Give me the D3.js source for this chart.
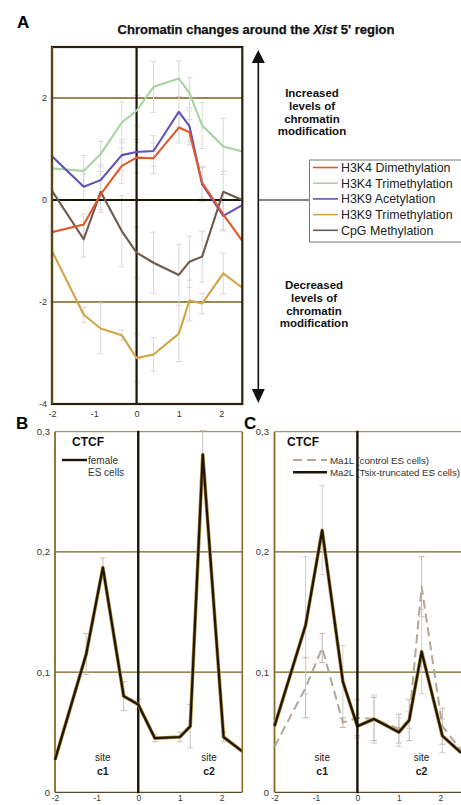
<!DOCTYPE html>
<html><head><meta charset="utf-8">
<script src="https://cdn.jsdelivr.net/npm/d3@7"></script>
<style>
html,body{margin:0;padding:0;background:#fff;}
svg{display:block;font-family:"Liberation Sans",Arial,sans-serif;}
</style></head>
<body>
<script>
// ---------- Data ----------
const positions = [-2, -1.25, -0.85, -0.35, 0, 0.4, 1, 1.25, 1.55, 2.05, 2.5];
const seriesNames = ["H3K4 Dimethylation","H3K4 Trimethylation","H3K9 Acetylation","H3K9 Trimethylation","CpG Methylation"];
const h3k4Dimethyl = [-0.63,-0.48,0.11,0.67,0.83,0.82,1.42,1.33,0.34,-0.28,-0.8];
const h3k4DimethylErr = [0,0.2,0.3,0.35,0.3,0.3,0.3,0.25,0.3,0.3,0];
const h3k4Trimethyl = [0.62,0.57,0.9,1.52,1.75,2.22,2.38,2.1,1.46,1.05,0.95];
const h3k4TrimethylErr = [0,0.3,0.25,0.4,0.3,0.5,0.35,0.3,0.45,0.55,0];
const h3k9Acetyl = [0.86,0.26,0.39,0.88,0.94,0.96,1.73,1.45,0.31,-0.31,-0.1];
const h3k9AcetylErr = [0,0.25,0.3,0.3,0.25,0.3,0.3,0.3,0.35,0.3,0];
const h3k9Trimethyl = [-1.0,-2.25,-2.52,-2.65,-3.1,-3.03,-2.62,-1.97,-2.03,-1.44,-1.72];
const h3k9TrimethylErr = [0,0.15,0.5,0.1,0.47,0.33,0.55,0.4,0.2,0.4,0];
const cpgMethyl = [0.18,-0.77,0.16,-0.61,-1.03,-1.23,-1.47,-1.21,-1.11,0.16,0.0];
const cpgMethylErr = [0,0.35,0.4,0.7,0.5,0.6,0.6,0.5,0.5,0.4,0];
const seriesColors = ["#e4572a","#a6d49e","#6450b4","#d2a445","#6d5a4b"];

const femaleES = [0.027,0.115,0.187,0.08,0.073,0.045,0.046,0.055,0.281,0.046,0.034];
const femaleESErr = [0,0.017,0.008,0.012,0.004,0.003,0.004,0.018,0.02,0.004,0];
const ma2L = [0.055,0.139,0.218,0.092,0.055,0.061,0.05,0.06,0.117,0.047,0.033];
const ma2LErr = [0,0.057,0.037,0.03,0.01,0.02,0.012,0.007,0.035,0.014,0];
const ma1L = [0.038,0.087,0.12,0.058,0.062,0.061,0.053,0.06,0.171,0.055,0.035];
const ma1LErr = [0,0.025,0.012,0.004,0.015,0.018,0.012,0.017,0.025,0.015,0];

const xTicks = [-2,-1,0,1,2];
const yTicksA = [2,0,-2,-4];
const yTicksB = [0.3,0.2,0.1,0];

// ---------- Setup ----------
const W = 461, H = 805;
const svg = d3.select("body").append("svg").attr("width", W).attr("height", H);
const gridCol = "#7a5f1c", frameCol = "#2b2110";
const errCol = "#d9d9d9";

function errorBars(g, x, y, vals, errs, col, capW) {
  const d = positions.map((p,i)=>({p, v: vals[i], e: errs[i]})).filter(o=>o.e>0);
  const eg = g.append("g").attr("stroke", col).attr("stroke-width", 1).attr("fill","none");
  d.forEach(o=>{
    eg.append("line").attr("x1",x(o.p)).attr("x2",x(o.p)).attr("y1",y(o.v-o.e)).attr("y2",y(o.v+o.e));
    eg.append("line").attr("x1",x(o.p)-capW).attr("x2",x(o.p)+capW).attr("y1",y(o.v-o.e)).attr("y2",y(o.v-o.e));
    eg.append("line").attr("x1",x(o.p)-capW).attr("x2",x(o.p)+capW).attr("y1",y(o.v+o.e)).attr("y2",y(o.v+o.e));
  });
}

// ---------- Panel A ----------
const xA = d3.scaleLinear().domain([-2,2.5]).range([52,242.3]);
const yA = d3.scaleLinear().domain([-4,3]).range([404,47]);
const gA = svg.append("g");

svg.append("text").attr("x",17).attr("y",28).attr("font-size",17).attr("font-weight","bold").text("A");
const title = svg.append("text").attr("x",256).attr("y",34).attr("text-anchor","middle")
  .attr("font-size",13).attr("font-weight","bold").attr("fill","#111").attr("stroke","#111").attr("stroke-width",0.25);
title.append("tspan").text("Chromatin changes around the ");
title.append("tspan").attr("font-style","italic").text("Xist");
title.append("tspan").text("  5' region");

// grid
[2,-2].forEach(v=>gA.append("line").attr("x1",xA(-2)).attr("x2",xA(2.5)).attr("y1",yA(v)).attr("y2",yA(v))
  .attr("stroke",gridCol).attr("stroke-width",1.5));

// error bars
const aSeries = [
  [h3k4Dimethyl,h3k4DimethylErr],[h3k4Trimethyl,h3k4TrimethylErr],[h3k9Acetyl,h3k9AcetylErr],
  [h3k9Trimethyl,h3k9TrimethylErr],[cpgMethyl,cpgMethylErr]];
aSeries.forEach(s=>errorBars(gA,xA,yA,s[0],s[1],errCol,3));

gA.append("line").attr("x1",xA(-2)).attr("x2",xA(2.5)).attr("y1",yA(0)).attr("y2",yA(0))
  .attr("stroke","#1a1408").attr("stroke-width",2.2);
gA.append("line").attr("x1",xA(0)).attr("x2",xA(0)).attr("y1",yA(3)).attr("y2",yA(-4))
  .attr("stroke","#1a1408").attr("stroke-width",2.2);

const lineA = d3.line().x((d,i)=>xA(positions[i])).y(d=>yA(d));
// draw order: green, gold, brown, purple, orange
[1,3,4,2,0].forEach(k=>{
  gA.append("path").datum(aSeries[k][0]).attr("d",lineA).attr("fill","none")
    .attr("stroke",seriesColors[k]).attr("stroke-width",2.1).attr("stroke-linejoin","round");
});

// frame
gA.append("rect").attr("x",xA(-2)).attr("y",yA(3)).attr("width",xA(2.5)-xA(-2)).attr("height",yA(-4)-yA(3))
  .attr("fill","none").attr("stroke",frameCol).attr("stroke-width",2.2);
gA.append("line").attr("x1",xA(-2)).attr("x2",xA(-2)).attr("y1",yA(3)).attr("y2",yA(-4))
  .attr("stroke","#5a4612").attr("stroke-width",2.2);

// ticks labels
gA.append("g").attr("transform",`translate(0,${yA(-4)})`)
  .call(d3.axisBottom(xA).tickValues(xTicks).tickSize(0).tickPadding(7).tickFormat(d=>d))
  .call(g=>g.select(".domain").remove())
  .call(g=>g.selectAll("text").attr("font-size",9).attr("fill","#333").attr("font-family","Liberation Sans, Arial"));
gA.append("g").attr("transform",`translate(${xA(-2)},0)`)
  .call(d3.axisLeft(yA).tickValues(yTicksA).tickSize(0).tickPadding(5).tickFormat(d=>d))
  .call(g=>g.select(".domain").remove())
  .call(g=>g.selectAll("text").attr("font-size",9).attr("fill","#333").attr("font-family","Liberation Sans, Arial"));

// arrow
const ax = 258.3;
svg.append("line").attr("x1",ax).attr("x2",ax).attr("y1",60).attr("y2",392).attr("stroke","#111").attr("stroke-width",1.6);
svg.append("path").attr("d",`M${ax-6.5},63 L${ax},50 L${ax+6.5},63 Z`).attr("fill","#111");
svg.append("path").attr("d",`M${ax-6.5},389 L${ax},403 L${ax+6.5},389 Z`).attr("fill","#111");
svg.append("line").attr("x1",ax).attr("x2",309).attr("y1",yA(0)).attr("y2",yA(0)).attr("stroke","#111").attr("stroke-width",1.2);

function multiline(lines, cx, y0, lh) {
  const t = svg.append("text").attr("text-anchor","middle").attr("font-size",11.5).attr("font-weight","bold").attr("fill","#111");
  lines.forEach((l,i)=>t.append("tspan").attr("x",cx).attr("y",y0+i*lh).text(l));
}
multiline(["Increased","levels of","chromatin","modification"], 312, 97, 12.8);
multiline(["Decreased","levels of","chromatin","modification"], 314, 289, 12.8);

// legend A
const lg = svg.append("g");
lg.append("rect").attr("x",309.5).attr("y",160).attr("width",155).attr("height",82)
  .attr("fill","#fff").attr("stroke","#777").attr("stroke-width",1);
seriesNames.forEach((n,i)=>{
  const yy = 167.5 + i*15.7;
  lg.append("line").attr("x1",313).attr("x2",338).attr("y1",yy).attr("y2",yy).attr("stroke",seriesColors[i]).attr("stroke-width",1.6);
  lg.append("text").attr("x",341).attr("y",yy+4.4).attr("font-size",12.4).attr("fill","#222").text(n);
});

// ---------- Panels B and C ----------
const yB = d3.scaleLinear().domain([0,0.3]).range([792.3,431.7]);
const xB = d3.scaleLinear().domain([-2,2.5]).range([55,242.3]);
const xC = d3.scaleLinear().domain([-2,2.5]).range([274.5,461]);

function panelFrame(g, x, labelX) {
  [0.2,0.1].forEach(v=>g.append("line").attr("x1",x(-2)).attr("x2",x(2.5)).attr("y1",yB(v)).attr("y2",yB(v))
    .attr("stroke",gridCol).attr("stroke-width",1.4));
  g.append("line").attr("x1",x(-2)).attr("x2",x(2.5)).attr("y1",yB(0.3)).attr("y2",yB(0.3)).attr("stroke","#8a7a55").attr("stroke-width",1);
  g.append("line").attr("x1",x(-2)).attr("x2",x(2.5)).attr("y1",yB(0)).attr("y2",yB(0)).attr("stroke","#5a4a2a").attr("stroke-width",1.2);
  g.append("line").attr("x1",x(-2)).attr("x2",x(-2)).attr("y1",yB(0.3)).attr("y2",yB(0)).attr("stroke","#8a6a25").attr("stroke-width",1.8);
  g.append("g").attr("transform",`translate(0,${yB(0)})`)
    .call(d3.axisBottom(x).tickValues(xTicks).tickSize(0).tickPadding(2.5).tickFormat(d=>d))
    .call(gg=>gg.select(".domain").remove())
    .call(gg=>gg.selectAll("text").attr("font-size",8.5).attr("fill","#333").attr("font-family","Liberation Sans, Arial"));
  g.append("g").attr("transform",`translate(${labelX},0)`)
    .call(d3.axisLeft(yB).tickValues(yTicksB).tickSize(0).tickPadding(0).tickFormat(d=>d===0?"0":d3.format(".1f")(d).replace(".",",")))
    .call(gg=>gg.select(".domain").remove())
    .call(gg=>gg.selectAll("text").attr("font-size",9.5).attr("fill","#333").attr("font-family","Liberation Sans, Arial"));
}
function zeroLine(g, x) {
  g.append("line").attr("x1",x(0)).attr("x2",x(0)).attr("y1",yB(0.3)-1).attr("y2",yB(0)+1)
    .attr("stroke","#1a1408").attr("stroke-width",2.4);
}
function darkLine(g, x, vals) {
  const ln = d3.line().x((d,i)=>x(positions[i])).y(d=>yB(d));
  g.append("path").datum(vals).attr("d",ln).attr("fill","none").attr("stroke","#b08c3a").attr("stroke-width",3.6).attr("stroke-linejoin","round");
  g.append("path").datum(vals).attr("d",ln).attr("fill","none").attr("stroke","#1c1408").attr("stroke-width",2.2).attr("stroke-linejoin","round");
}
function siteLabel(cx, name) {
  svg.append("text").attr("x",cx).attr("y",761).attr("text-anchor","middle").attr("font-size",10).attr("fill","#222").text("site");
  svg.append("text").attr("x",cx).attr("y",775).attr("text-anchor","middle").attr("font-size",10.5).attr("font-weight","bold").attr("fill","#222").text(name);
}

// Panel B
const gB = svg.append("g");
svg.append("text").attr("x",16).attr("y",429).attr("font-size",17).attr("font-weight","bold").text("B");
panelFrame(gB, xB, 50);
errorBars(gB, xB, yB, femaleES, femaleESErr, "#c9c2b8", 3);
zeroLine(gB, xB);
darkLine(gB, xB, femaleES);
gB.append("line").attr("x1",xB(2.5)).attr("x2",xB(2.5)).attr("y1",yB(0.3)).attr("y2",yB(0)).attr("stroke","#8a6a25").attr("stroke-width",1.6);
svg.append("text").attr("x",72).attr("y",446).attr("font-size",12).attr("font-weight","bold").attr("fill","#111").text("CTCF");
gB.append("line").attr("x1",62).attr("x2",87).attr("y1",460).attr("y2",460).attr("stroke","#1c1408").attr("stroke-width",2.4);
svg.append("text").attr("x",88).attr("y",464).attr("font-size",10).attr("fill","#333").text("female");
svg.append("text").attr("x",88).attr("y",476).attr("font-size",10).attr("fill","#333").text("ES cells");
siteLabel(xB(-0.85), "c1");
siteLabel(xB(1.7), "c2");

// Panel C
const gC = svg.append("g");
panelFrame(gC, xC, 269);
errorBars(gC, xC, yB, ma1L, ma1LErr, "#c2b6aa", 3);
errorBars(gC, xC, yB, ma2L, ma2LErr, "#cfcfcf", 3);
const lnC = d3.line().x((d,i)=>xC(positions[i])).y(d=>yB(d));
gC.append("path").datum(ma1L).attr("d",lnC).attr("fill","none").attr("stroke","#b3a69a").attr("stroke-width",2)
  .attr("stroke-dasharray","9,5").attr("stroke-linejoin","round");
darkLine(gC, xC, ma2L);
svg.append("text").attr("x",287).attr("y",446).attr("font-size",12).attr("font-weight","bold").attr("fill","#111").text("CTCF");
gC.append("line").attr("x1",293).attr("x2",327).attr("y1",460).attr("y2",460).attr("stroke","#b3a69a").attr("stroke-width",2).attr("stroke-dasharray","9,5");
gC.append("line").attr("x1",293).attr("x2",327).attr("y1",472.3).attr("y2",472.3).attr("stroke","#1c1408").attr("stroke-width",2.4);
svg.append("text").attr("x",330).attr("y",463.5).attr("font-size",9.8).attr("fill","#333").attr("textLength",99).text("Ma1L (control ES cells)");
svg.append("text").attr("x",330).attr("y",475.8).attr("font-size",9.8).attr("fill","#333").attr("textLength",130).text("Ma2L (Tsix-truncated ES cells)");
zeroLine(gC, xC);
siteLabel(xC(-0.85), "c1");
siteLabel(xC(1.55), "c2");
svg.append("text").attr("x",244).attr("y",429).attr("font-size",17).attr("font-weight","bold").text("C");
</script>
</body></html>
